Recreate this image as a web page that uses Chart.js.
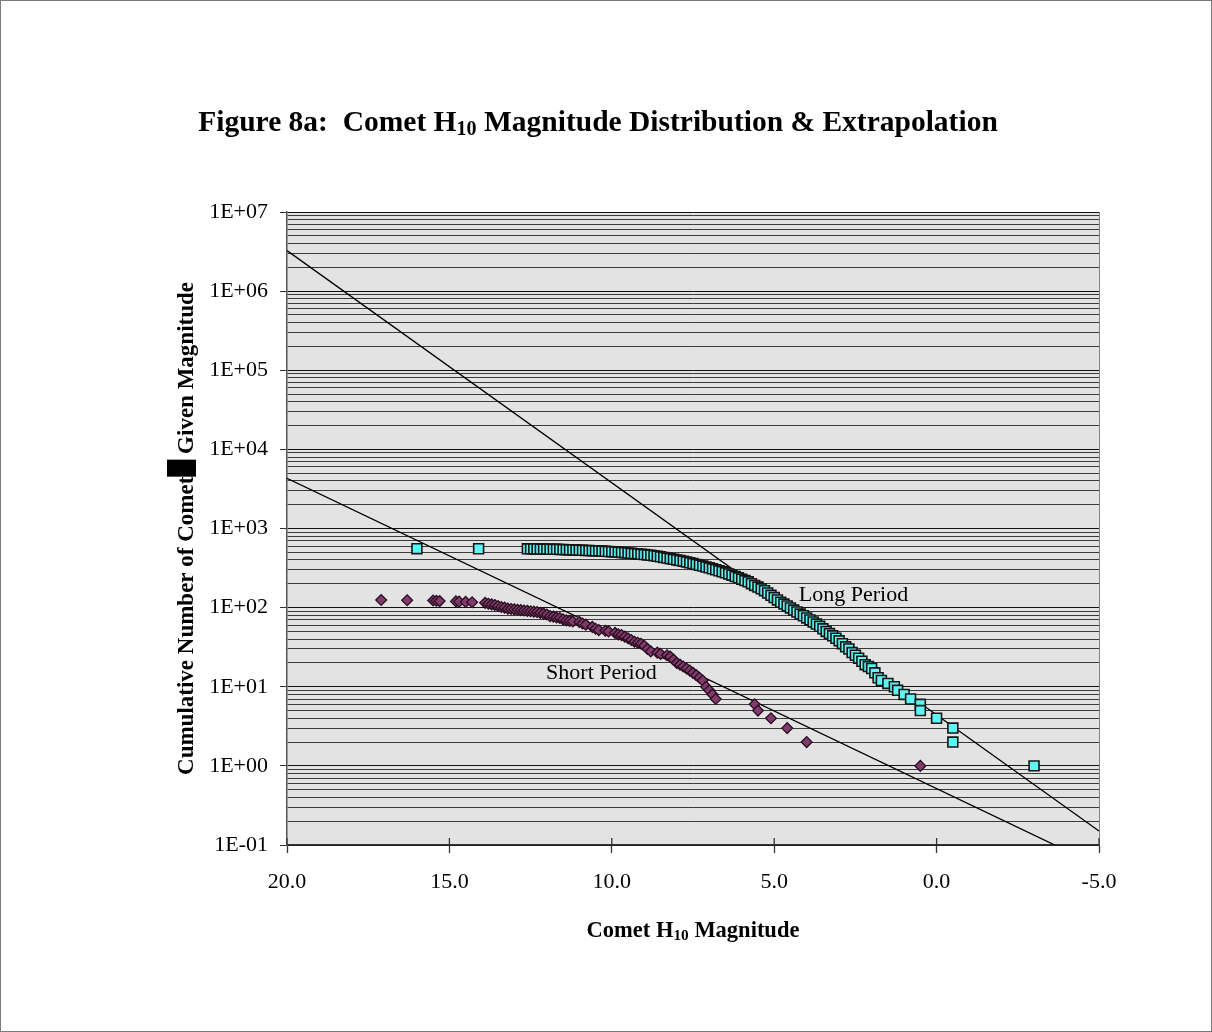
<!DOCTYPE html>
<html>
<head>
<meta charset="utf-8">
<script src="https://cdn.jsdelivr.net/npm/chart.js@4/dist/chart.umd.min.js"></script>
<style>
  html, body { margin: 0; padding: 0; background: #fff; }
  canvas { display: block; }
</style>
</head>
<body>
<canvas id="chart" width="1212" height="1032"></canvas>
<script>
// Long period comets: H10 magnitude vs cumulative count
const longMag = [16.0, 14.1, 12.6, 12.5, 12.4, 12.3, 12.2, 12.1, 12.0, 11.9,
  11.8, 11.7, 11.6, 11.5, 11.4, 11.3, 11.2, 11.1, 11.0, 10.9,
  10.8, 10.7, 10.6, 10.5, 10.4, 10.3, 10.2, 10.1, 10.0, 9.9,
  9.8, 9.7, 9.6, 9.5, 9.4, 9.3, 9.2, 9.1, 9.0, 8.9,
  8.8, 8.7, 8.6, 8.5, 8.4, 8.3, 8.2, 8.1, 8.0, 7.9,
  7.8, 7.7, 7.6, 7.5, 7.4, 7.3, 7.2, 7.1, 7.0, 6.9,
  6.8, 6.7, 6.6, 6.5, 6.4, 6.3, 6.2, 6.1, 6.0, 5.9,
  5.8, 5.7, 5.6, 5.5, 5.4, 5.3, 5.2, 5.1, 5.0, 4.9,
  4.8, 4.7, 4.6, 4.5, 4.4, 4.3, 4.2, 4.1, 4.0, 3.9,
  3.8, 3.7, 3.6, 3.5, 3.4, 3.3, 3.2, 3.1, 3.0, 2.9,
  2.8, 2.7, 2.6, 2.5, 2.4, 2.3, 2.2, 2.1, 2.0, 1.9,
  1.8, 1.7, 1.5, 1.3, 1.2, 1.0, 0.8, 0.5, 0.5, 0.0,
  -0.5, -0.5, -3.0];
const longCount = [556, 555, 554, 553, 552, 551, 550, 549, 548, 547,
  546, 545, 544, 542, 540, 538, 536, 534, 532, 530,
  528, 526, 524, 522, 521, 518, 515, 512, 509, 506,
  503, 499, 495, 490, 486, 481, 477, 472, 468, 463,
  459, 454, 446, 438, 431, 423, 416, 408, 401, 393,
  386, 378, 369, 360, 352, 343, 335, 326, 318, 309,
  301, 292, 284, 275, 267, 257, 247, 238, 229, 220,
  212, 201, 191, 182, 173, 164, 153, 143, 134, 125,
  117, 111, 105, 99, 93, 88, 83, 79, 74, 70,
  66, 62, 58, 54, 50, 47, 44, 41, 38, 35,
  32, 30, 27, 25, 23, 21, 19, 18, 17, 15,
  13, 12, 11, 10, 9, 8, 7, 6, 5, 4,
  3, 2, 1];

// Short period comets
const shortMag = [17.1, 16.3, 15.5, 15.4, 15.3, 14.8, 14.7, 14.5, 14.3, 13.9,
  13.8, 13.7, 13.6, 13.5, 13.4, 13.3, 13.2, 13.1, 13.0, 12.9,
  12.8, 12.7, 12.6, 12.5, 12.4, 12.3, 12.2, 12.1, 12.0, 11.9,
  11.8, 11.7, 11.6, 11.5, 11.4, 11.3, 11.2, 11.0, 10.9, 10.8,
  10.6, 10.5, 10.4, 10.2, 10.1, 9.9, 9.8, 9.7, 9.6, 9.5,
  9.4, 9.3, 9.2, 9.1, 9.0, 8.9, 8.8, 8.6, 8.5, 8.3,
  8.2, 8.1, 8.0, 7.9, 7.8, 7.7, 7.6, 7.5, 7.4, 7.3,
  7.2, 7.1, 7.0, 6.9, 6.8, 5.6, 5.5, 5.1, 4.6, 4.0,
  0.5];
const shortCount = [125, 124, 123, 122, 121, 120, 119, 118, 117, 115,
  112, 110, 108, 105, 102, 100, 97, 96, 95, 94,
  93, 92, 91, 90, 89, 88, 86, 84, 82, 78,
  77, 75, 74, 71, 69, 68, 67, 66, 63, 61,
  57, 54, 52, 51, 50, 48, 46, 45, 43, 41,
  39, 37, 36, 35, 33, 30, 28, 27, 26, 25,
  24, 22, 20, 19, 18, 17, 16, 15, 14, 13,
  12, 10, 9, 8, 7, 6, 5, 4, 3, 2,
  1];

// Extrapolation lines (end points)
const longFitMag = [20.0, -5.0];
const longFitCount = [3.25e6, 0.15];
const shortFitMag = [20.0, -5.0];
const shortFitCount = [4320, 0.054];

// Axis ticks
const yMajor = [1e-1, 1e0, 1e1, 1e2, 1e3, 1e4, 1e5, 1e6, 1e7];
const yTickLabels = ['1E-01', '1E+00', '1E+01', '1E+02', '1E+03', '1E+04', '1E+05', '1E+06', '1E+07'];
const yMinorSteps = [2, 3, 4, 5, 6, 7, 8, 9];
const xMin = -5, xMax = 20, xStep = 5;

const yTicks = [];
yMajor.forEach((d, i) => {
  yTicks.push({ value: d, major: true });
  if (i < yMajor.length - 1) yMinorSteps.forEach(m => yTicks.push({ value: d * m, major: false }));
});

const toPoints = (xs, ys) => xs.map((x, i) => ({ x: x, y: ys[i] }));

const SERIF = "'Liberation Serif', 'Times New Roman', serif";

// draws a run of text parts, some as subscripts or filled boxes, centred on x
function drawRich(ctx, parts, cx, baseline, size, bold) {
  const weight = bold ? 'bold ' : '';
  const widths = parts.map(p => {
    if (p.box) return p.box;
    ctx.font = weight + (p.sub ? size * 0.68 : size) + 'px ' + SERIF;
    return ctx.measureText(p.text).width;
  });
  let x = cx - widths.reduce((a, b) => a + b, 0) / 2;
  ctx.textAlign = 'left';
  ctx.textBaseline = 'alphabetic';
  parts.forEach((p, i) => {
    if (p.box) {
      ctx.fillRect(x, baseline - size * 1.13, p.box, size * 1.26);
    } else {
      ctx.font = weight + (p.sub ? size * 0.68 : size) + 'px ' + SERIF;
      ctx.fillText(p.text, x, baseline + (p.sub ? size * 0.12 : 0));
    }
    x += widths[i];
  });
}

const decor = {
  id: 'decor',
  beforeDraw(chart) {
    const { ctx, chartArea: a } = chart;
    ctx.save();
    ctx.fillStyle = '#fff';
    ctx.fillRect(0, 0, chart.width, chart.height);
    ctx.strokeStyle = '#7a7a7a';
    ctx.lineWidth = 1;
    ctx.strokeRect(0.5, 0.5, chart.width - 1, chart.height - 1);
    ctx.fillStyle = '#e3e3e3';
    ctx.fillRect(a.left, a.top, a.right - a.left, a.bottom - a.top);
    ctx.restore();
  },
  afterDraw(chart) {
    const { ctx, chartArea: a, scales } = chart;
    ctx.save();
    // right edge of plot area
    ctx.strokeStyle = '#808080';
    ctx.lineWidth = 1;
    ctx.beginPath();
    ctx.moveTo(a.right + 0.5, a.top);
    ctx.lineTo(a.right + 0.5, a.bottom);
    ctx.stroke();
    // x tick marks cross the axis
    ctx.strokeStyle = '#333';
    ctx.lineWidth = 1.3;
    scales.x.ticks.forEach(t => {
      const px = scales.x.getPixelForValue(t.value);
      ctx.beginPath();
      ctx.moveTo(px, a.bottom - 7);
      ctx.lineTo(px, a.bottom);
      ctx.stroke();
    });

    ctx.fillStyle = '#000';
    drawRich(ctx, [{ text: 'Figure 8a:  Comet H' }, { text: '10', sub: true },
      { text: ' Magnitude Distribution & Extrapolation' }], 598, 131, 29.5, true);
    drawRich(ctx, [{ text: 'Comet H' }, { text: '10', sub: true }, { text: ' Magnitude' }],
      (a.left + a.right) / 2, 937, 22.5, true);

    ctx.save();
    ctx.translate(193, (a.top + a.bottom) / 2);
    ctx.rotate(-Math.PI / 2);
    drawRich(ctx, [{ text: 'Cumulative Number of Comet' }, { box: 17 }, { text: ' Given Magnitude' }],
      0, 0, 23, true);
    ctx.restore();

    ctx.font = '22px ' + SERIF;
    ctx.textAlign = 'center';
    ctx.textBaseline = 'middle';
    ctx.fillText('Long Period', scales.x.getPixelForValue(2.56), scales.y.getPixelForValue(145));
    ctx.fillText('Short Period', scales.x.getPixelForValue(10.32), scales.y.getPixelForValue(14.7));
    ctx.restore();
  }
};

new Chart(document.getElementById('chart'), {
  type: 'scatter',
  data: {
    datasets: [
      {
        label: 'Long Period',
        data: toPoints(longMag, longCount),
        pointStyle: 'rect',
        pointRadius: 7,
        backgroundColor: '#5ff5f5',
        borderColor: '#141414',
        borderWidth: 1.6,
        order: 1
      },
      {
        label: 'Short Period',
        data: toPoints(shortMag, shortCount),
        pointStyle: 'rectRot',
        pointRadius: 5.4,
        backgroundColor: '#803a6b',
        borderColor: '#2a0d20',
        borderWidth: 1.3,
        order: 2
      },
      {
        label: 'Long Period fit',
        data: toPoints(longFitMag, longFitCount),
        showLine: true,
        pointRadius: 0,
        borderColor: '#000',
        borderWidth: 1.3,
        order: 3
      },
      {
        label: 'Short Period fit',
        data: toPoints(shortFitMag, shortFitCount),
        showLine: true,
        pointRadius: 0,
        borderColor: '#000',
        borderWidth: 1.3,
        order: 4
      }
    ]
  },
  options: {
    responsive: false,
    animation: false,
    devicePixelRatio: 1,
    layout: { padding: { top: 212, right: 113, left: 0, bottom: 0 } },
    plugins: {
      legend: { display: false },
      tooltip: { enabled: false }
    },
    scales: {
      x: {
        type: 'linear',
        reverse: true,
        min: xMin,
        max: xMax,
        afterFit(s) { s.height = 187; },
        ticks: {
          stepSize: xStep,
          callback: v => v.toFixed(1),
          color: '#000',
          font: { family: SERIF, size: 22 },
          padding: 16,
          maxRotation: 0
        },
        grid: { drawOnChartArea: false, tickLength: 8, tickColor: '#333', tickWidth: 1.3 },
        border: { color: '#333', width: 1.5 }
      },
      y: {
        type: 'logarithmic',
        min: 0.1,
        max: 1e7,
        afterFit(s) { s.width = 287; },
        afterBuildTicks(s) { s.ticks = yTicks.map(t => ({ value: t.value, major: t.major })); },
        ticks: {
          autoSkip: false,
          callback(v) {
            const k = yMajor.indexOf(v);
            return k >= 0 ? yTickLabels[k] : '';
          },
          color: '#000',
          font: { family: SERIF, size: 22 },
          padding: 12
        },
        grid: {
          color: c => (c.tick && c.tick.major ? '#111' : '#3a3a3a'),
          lineWidth: 1,
          tickLength: 7,
          tickColor: c => (c.tick && c.tick.major ? '#333' : 'rgba(0,0,0,0)')
        },
        border: { color: '#555', width: 1.5 }
      }
    }
  },
  plugins: [decor]
});
</script>
</body>
</html>
